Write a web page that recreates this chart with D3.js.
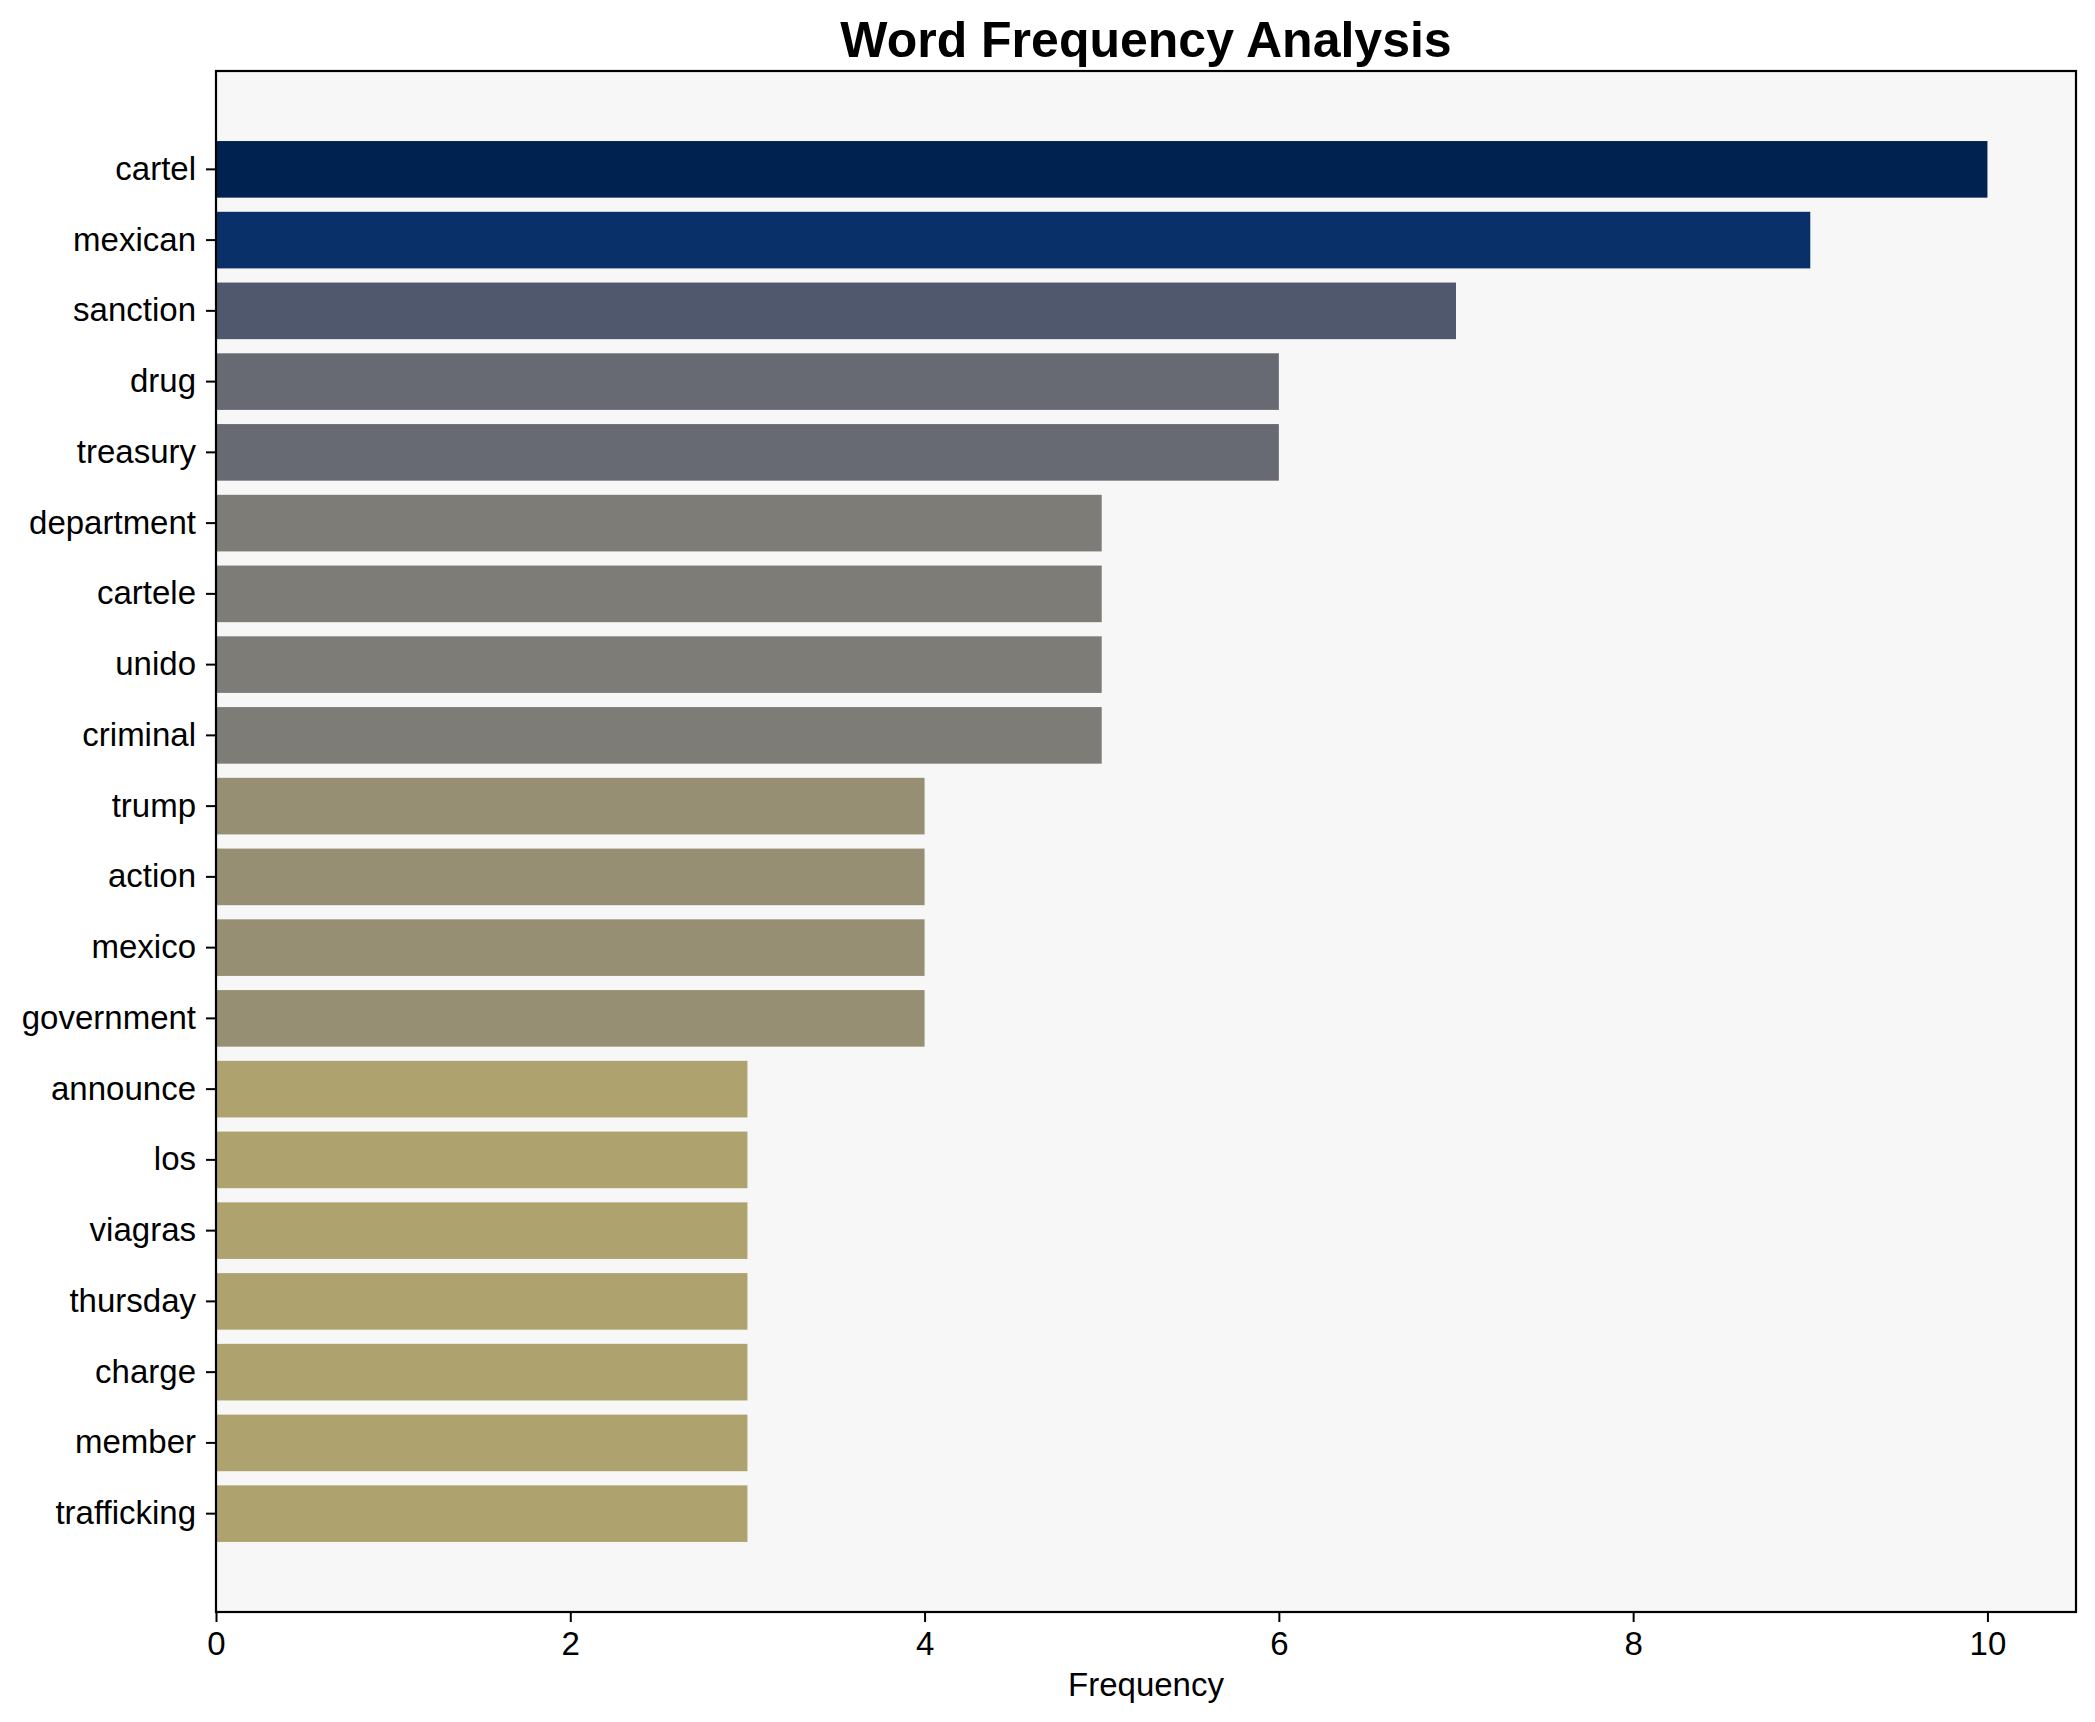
<!DOCTYPE html>
<html>
<head>
    <title>Word Frequency Analysis</title>
    <script src="https://cdnjs.cloudflare.com/ajax/libs/d3/7.8.5/d3.min.js"></script>
    <style>
        body {
            margin: 0;
            background-color: white;
            font-family: "Liberation Sans", Arial, sans-serif;
        }
        #chart {
            width: 2095px;
            height: 1722px;
        }
    </style>
</head>
<body>
    <div id="chart"></div>

    <script>
        // Data
        const words = ['cartel', 'mexican', 'sanction', 'drug', 'treasury', 'department', 'cartele',
            'unido', 'criminal', 'trump', 'action', 'mexico', 'government', 'announce', 'los',
            'viagras', 'thursday', 'charge', 'member', 'trafficking'];
        const counts = [10, 9, 7, 6, 6, 5, 5, 5, 5, 4, 4, 4, 4, 3, 3, 3, 3, 3, 3, 3];
        const xTicks = [0, 2, 4, 6, 8, 10];

        const width = 2095;
        const height = 1722;
        const margin = {top: 71, right: 19, bottom: 110, left: 216};
        const innerW = width - margin.left - margin.right;
        const innerH = height - margin.top - margin.bottom;

        const svg = d3.select('#chart')
            .append('svg')
                .attr('width', width)
                .attr('height', height);

        const g = svg.append('g')
            .attr('transform', `translate(${margin.left},${margin.top})`);

        // Scales
        const x = d3.scaleLinear()
            .domain([0, d3.max(counts) * 1.05])
            .range([0, innerW]);

        const y = d3.scaleBand()
            .domain(words)
            .range([0, innerH])
            .paddingInner(0.2)
            .paddingOuter(0.99);

        // cividis-like colours, darker for higher counts
        const color = d3.scaleOrdinal()
            .domain([10, 9, 7, 6, 5, 4, 3])
            .range(['#002250', '#0a306a', '#4f586c', '#676a72', '#7e7c77', '#968f74', '#aea36f']);

        // Axes background
        g.append('rect')
            .attr('width', innerW)
            .attr('height', innerH)
            .attr('fill', '#f7f7f7');

        // Bars
        g.selectAll('.bar')
            .data(words.map((w, i) => ({word: w, value: counts[i]})))
            .enter()
            .append('rect')
                .attr('class', 'bar')
                .attr('x', x(0))
                .attr('y', d => y(d.word))
                .attr('width', d => x(d.value) - x(0))
                .attr('height', y.bandwidth())
                .attr('fill', d => color(d.value));

        // X axis
        const xAxis = g.append('g')
            .attr('transform', `translate(0,${innerH})`)
            .call(d3.axisBottom(x).tickValues(xTicks).tickSize(10).tickPadding(10).tickSizeOuter(0));
        xAxis.select('.domain').remove();
        xAxis.selectAll('line').attr('stroke', '#000').attr('stroke-width', 2);
        xAxis.selectAll('text')
            .style('font-size', '33px')
            .style('font-family', '"Liberation Sans", Arial, sans-serif')
            .attr('fill', '#000');

        // Y axis
        const yAxis = g.append('g')
            .call(d3.axisLeft(y).tickSize(10).tickPadding(10).tickSizeOuter(0));
        yAxis.select('.domain').remove();
        yAxis.selectAll('line').attr('stroke', '#000').attr('stroke-width', 2);
        yAxis.selectAll('text')
            .style('font-size', '33px')
            .style('font-family', '"Liberation Sans", Arial, sans-serif')
            .attr('fill', '#000');

        // Frame
        g.append('rect')
            .attr('width', innerW)
            .attr('height', innerH)
            .attr('fill', 'none')
            .attr('stroke', '#000')
            .attr('stroke-width', 2.2);

        // X axis label
        svg.append('text')
            .attr('x', margin.left + innerW / 2)
            .attr('y', 1696)
            .attr('text-anchor', 'middle')
            .style('font-size', '33px')
            .text('Frequency');

        // Title
        svg.append('text')
            .attr('x', margin.left + innerW / 2)
            .attr('y', 57)
            .attr('text-anchor', 'middle')
            .style('font-size', '50px')
            .style('font-weight', 'bold')
            .text('Word Frequency Analysis');
    </script>
</body>
</html>
